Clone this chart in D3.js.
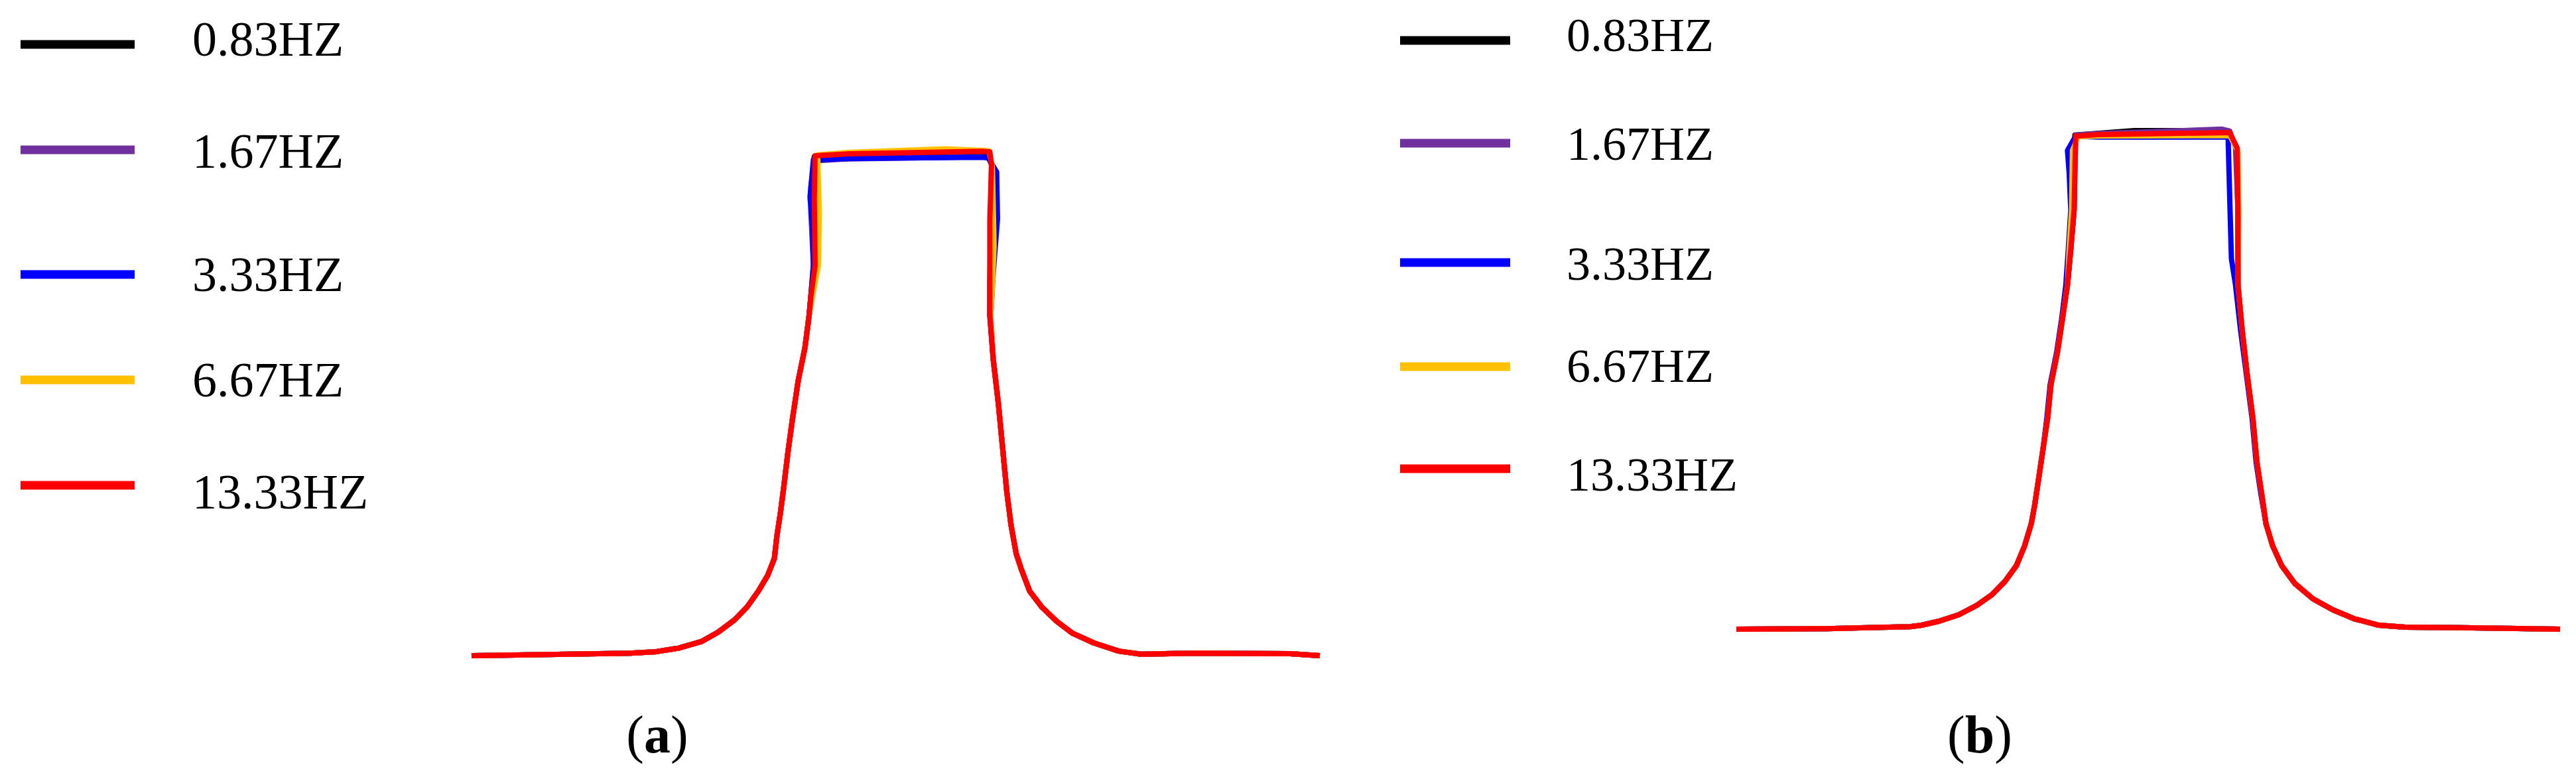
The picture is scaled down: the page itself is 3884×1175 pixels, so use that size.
<!DOCTYPE html>
<html><head><meta charset="utf-8">
<script src="https://cdn.jsdelivr.net/npm/d3@7"></script>
<style>html,body{margin:0;padding:0;background:#fff;} svg{display:block;}</style>
</head><body>
<svg id="chart" width="3884" height="1175"></svg>
<script>
// ---------- data ----------
const categories = ["0.83HZ", "1.67HZ", "3.33HZ", "6.67HZ", "13.33HZ"];
const seriesColors = ["#000000", "#7030A0", "#0000FF", "#FFC000", "#FF0000"];
const panelLabels = ["a", "b"];

// panel (a): [position, displacement] in relative units (0..100)
const a_083 = [[0,0],[11.3,0.3],[18.7,0.5],[21.8,0.8],[24.4,1.5],[27.1,2.8],[29.1,4.7],[31.0,7.1],[32.5,9.7],[33.8,12.8],[34.9,15.9],[35.7,19.3],[36.0,23.8],[36.4,28.2],[36.8,33.4],[37.3,40.4],[37.8,46.6],[38.5,54.5],[39.3,61.1],[39.8,67.6],[40.0,71.3],[40.4,77.5],[40.3,90.7],[40.4,99.0],[44.5,99.4],[60.1,99.9],[61.0,99.8],[61.3,97.3],[61.2,86.6],[61.1,73.5],[61.1,67.6],[61.5,58.8],[62.1,50.1],[62.6,41.3],[63.1,32.5],[63.6,25.9],[64.2,20.3],[64.8,17.2],[65.8,12.8],[67.2,9.7],[69.0,6.8],[70.8,4.5],[73.4,2.5],[76.3,0.9],[78.9,0.3],[85.4,0.5],[96.5,0.4],[100,0]];
const a_167 = [[0,0],[11.3,0.3],[18.7,0.5],[21.8,0.8],[24.4,1.5],[27.1,2.8],[29.1,4.7],[31.0,7.1],[32.5,9.7],[33.8,12.8],[34.9,15.9],[35.7,19.3],[36.0,23.8],[36.4,28.2],[36.8,33.4],[37.3,40.4],[37.8,46.6],[38.5,54.5],[39.3,61.1],[39.8,67.6],[40.0,71.3],[40.3,77.5],[40.0,88.0],[40.0,93.0],[40.4,98.2],[44.5,98.6],[60.1,99.0],[61.0,98.8],[61.5,96.5],[61.3,86.6],[61.2,73.5],[61.1,67.6],[61.5,58.8],[62.1,50.1],[62.6,41.3],[63.1,32.5],[63.6,25.9],[64.2,20.3],[64.8,17.2],[65.8,12.8],[67.2,9.7],[69.0,6.8],[70.8,4.5],[73.4,2.5],[76.3,0.9],[78.9,0.3],[85.4,0.5],[96.5,0.4],[100,0]];
const a_333 = [[0,0],[11.3,0.3],[18.7,0.5],[21.8,0.8],[24.4,1.5],[27.1,2.8],[29.1,4.7],[31.0,7.1],[32.5,9.7],[33.8,12.8],[34.9,15.9],[35.7,19.3],[36.0,23.8],[36.4,28.2],[36.8,33.4],[37.3,40.4],[37.8,46.6],[38.5,54.5],[39.3,61.1],[39.8,67.6],[40.0,71.3],[40.3,77.5],[40.2,84.9],[39.9,91.0],[40.3,98.4],[44.5,98.7],[60.1,98.9],[60.9,98.8],[61.9,96.0],[62.0,86.7],[61.5,76.0],[61.2,67.6],[61.5,58.8],[62.1,50.1],[62.6,41.3],[63.1,32.5],[63.6,25.9],[64.2,20.3],[64.8,17.2],[65.8,12.8],[67.2,9.7],[69.0,6.8],[70.8,4.5],[73.4,2.5],[76.3,0.9],[78.9,0.3],[85.4,0.5],[96.5,0.4],[100,0]];
const a_667 = [[0,0],[11.3,0.3],[18.7,0.5],[21.8,0.8],[24.4,1.5],[27.1,2.8],[29.1,4.7],[31.0,7.1],[32.5,9.7],[33.8,12.8],[34.9,15.9],[35.7,19.3],[36.0,23.8],[36.4,28.2],[36.8,33.4],[37.3,40.4],[37.8,46.6],[38.5,54.5],[39.3,61.1],[39.8,67.6],[40.2,71.3],[40.9,77.5],[41.0,88.0],[40.8,99.4],[44.5,99.9],[55.8,100.6],[60.1,100.3],[61.0,100.2],[61.4,97.0],[61.6,81.2],[61.4,73.5],[61.2,67.6],[61.5,58.8],[62.1,50.1],[62.6,41.3],[63.1,32.5],[63.6,25.9],[64.2,20.3],[64.8,17.2],[65.8,12.8],[67.2,9.7],[69.0,6.8],[70.8,4.5],[73.4,2.5],[76.3,0.9],[78.9,0.3],[85.4,0.5],[96.5,0.4],[100,0]];
const a_1333 = [[0,0],[11.3,0.3],[18.7,0.5],[21.8,0.8],[24.4,1.5],[27.1,2.8],[29.1,4.7],[31.0,7.1],[32.5,9.7],[33.8,12.8],[34.9,15.9],[35.7,19.3],[36.0,23.8],[36.4,28.2],[36.8,33.4],[37.3,40.4],[37.8,46.6],[38.5,54.5],[39.3,61.1],[39.8,67.6],[40.0,71.3],[40.5,77.5],[40.4,90.7],[40.5,99.2],[44.5,99.6],[60.1,100.1],[61.1,100.0],[61.3,97.5],[61.1,86.6],[61.1,73.5],[61.1,67.6],[61.5,58.8],[62.1,50.1],[62.6,41.3],[63.1,32.5],[63.6,25.9],[64.2,20.3],[64.8,17.2],[65.8,12.8],[67.2,9.7],[69.0,6.8],[70.8,4.5],[73.4,2.5],[76.3,0.9],[78.9,0.3],[85.4,0.5],[96.5,0.4],[100,0]];

// panel (b)
const b_083 = [[0,0],[11.0,0.1],[21.1,0.5],[22.5,0.8],[24.6,1.6],[27.0,2.9],[29.2,4.8],[31.0,6.9],[32.6,9.6],[34.0,12.8],[35.0,16.8],[35.8,21.2],[36.2,24.8],[36.6,29.2],[37.2,35.9],[37.8,42.6],[38.2,49.3],[39.0,55.9],[39.6,62.6],[40.2,69.3],[40.6,76.5],[41.0,84.4],[41.1,99.5],[48.3,100.4],[58.1,100.4],[59.8,100.2],[60.7,96.9],[60.9,84.0],[60.9,69.3],[61.4,60.4],[62.0,51.5],[62.7,42.6],[63.2,33.6],[63.8,27.0],[64.3,21.2],[65.1,16.8],[66.2,12.8],[67.8,9.2],[70.0,6.1],[72.4,3.9],[75.0,2.1],[78.0,0.8],[81.2,0.4],[87.9,0.3],[100,0]];
const b_167 = [[0,0],[11.0,0.1],[21.1,0.5],[22.5,0.8],[24.6,1.6],[27.0,2.9],[29.2,4.8],[31.0,6.9],[32.6,9.6],[34.0,12.8],[35.0,16.8],[35.8,21.2],[36.2,24.8],[36.6,29.2],[37.2,35.9],[37.8,42.6],[38.2,49.3],[39.0,55.9],[39.6,62.6],[40.2,69.3],[40.6,76.5],[41.0,84.4],[41.2,99.5],[43.9,99.8],[58.9,100.7],[59.9,100.3],[60.6,97.0],[60.9,84.0],[60.9,69.3],[61.4,60.4],[62.0,51.5],[62.7,42.6],[63.2,33.6],[63.8,27.0],[64.3,21.2],[65.1,16.8],[66.2,12.8],[67.8,9.2],[70.0,6.1],[72.4,3.9],[75.0,2.1],[78.0,0.8],[81.2,0.4],[87.9,0.3],[100,0]];
const b_333 = [[0,0],[11.0,0.1],[21.1,0.5],[22.5,0.8],[24.6,1.6],[27.0,2.9],[29.2,4.8],[31.0,6.9],[32.6,9.6],[34.0,12.8],[35.0,16.8],[35.8,21.2],[36.2,24.8],[36.6,29.2],[37.2,35.9],[37.7,42.6],[38.1,49.3],[38.9,55.9],[39.5,62.6],[40.0,69.3],[40.3,76.5],[40.6,84.4],[40.4,92.0],[40.2,96.4],[41.2,99.3],[43.9,99.1],[59.7,99.1],[59.9,86.5],[60.1,74.6],[60.6,69.3],[61.2,60.4],[61.9,51.5],[62.6,42.6],[63.1,33.6],[63.7,27.0],[64.3,21.2],[65.1,16.8],[66.2,12.8],[67.8,9.2],[70.0,6.1],[72.4,3.9],[75.0,2.1],[78.0,0.8],[81.2,0.4],[87.9,0.3],[100,0]];
const b_667 = [[0,0],[11.0,0.1],[21.1,0.5],[22.5,0.8],[24.6,1.6],[27.0,2.9],[29.2,4.8],[31.0,6.9],[32.6,9.6],[34.0,12.8],[35.0,16.8],[35.8,21.2],[36.2,24.8],[36.6,29.2],[37.2,35.9],[37.8,42.6],[38.2,49.3],[39.0,55.9],[39.6,62.6],[40.2,69.3],[40.4,76.5],[40.7,84.4],[40.8,96.4],[41.5,99.2],[44.0,99.3],[59.9,99.4],[60.9,96.2],[61.0,84.0],[60.9,69.3],[61.4,60.4],[62.0,51.5],[62.7,42.6],[63.2,33.6],[63.8,27.0],[64.3,21.2],[65.1,16.8],[66.2,12.8],[67.8,9.2],[70.0,6.1],[72.4,3.9],[75.0,2.1],[78.0,0.8],[81.2,0.4],[87.9,0.3],[100,0]];
const b_1333 = [[0,0],[11.0,0.1],[21.1,0.5],[22.5,0.8],[24.6,1.6],[27.0,2.9],[29.2,4.8],[31.0,6.9],[32.6,9.6],[34.0,12.8],[35.0,16.8],[35.8,21.2],[36.2,24.8],[36.6,29.2],[37.2,35.9],[37.8,42.6],[38.2,49.3],[39.0,55.9],[39.6,62.6],[40.2,69.3],[40.6,76.5],[41.0,84.4],[41.2,99.3],[43.9,99.6],[59.9,100.0],[60.8,96.9],[60.9,84.0],[60.9,69.3],[61.4,60.4],[62.0,51.5],[62.7,42.6],[63.2,33.6],[63.8,27.0],[64.3,21.2],[65.1,16.8],[66.2,12.8],[67.8,9.2],[70.0,6.1],[72.4,3.9],[75.0,2.1],[78.0,0.8],[81.2,0.4],[87.9,0.3],[100,0]];

const panelSeries = [
  [a_083, a_167, a_333, a_667, a_1333],
  [b_083, b_167, b_333, b_667, b_1333]
];

// ---------- layout ----------
const layouts = [
  { x: [711, 1990], y: [989, 229], legLine: [31, 203], legY: [67, 226, 414, 573, 732],
    legTextX: 290, legBase: [84, 253, 439, 598, 767], legFont: 74, labelX: 991, labelY: 1135 },
  { x: [2618, 3860], y: [949, 200], legLine: [2111, 2277], legY: [61, 216, 396, 553, 707],
    legTextX: 2362, legBase: [77, 241, 422, 576, 740], legFont: 72, labelX: 2985, labelY: 1135 }
];

const svg = d3.select("#chart");
const serif = "'Liberation Serif', 'Times New Roman', serif";

layouts.forEach((L, p) => {
  const g = svg.append("g");
  const xs = d3.scaleLinear().domain([0, 100]).range(L.x);
  const ys = d3.scaleLinear().domain([0, 100]).range(L.y);
  const line = d3.line().x(d => xs(d[0])).y(d => ys(d[1]));

  panelSeries[p].forEach((s, i) => {
    g.append("path").datum(s)
      .attr("d", line)
      .attr("fill", "none")
      .attr("stroke", seriesColors[i])
      .attr("stroke-width", 8)
      .attr("stroke-linejoin", "round")
      .attr("stroke-linecap", "butt");
  });

  // legend
  const leg = g.append("g");
  categories.forEach((c, i) => {
    leg.append("line")
      .attr("x1", L.legLine[0]).attr("x2", L.legLine[1])
      .attr("y1", L.legY[i]).attr("y2", L.legY[i])
      .attr("stroke", seriesColors[i]).attr("stroke-width", 13);
    leg.append("text")
      .attr("x", L.legTextX).attr("y", L.legBase[i])
      .attr("font-family", serif).attr("font-size", L.legFont)
      .attr("fill", "#000")
      .text(c);
  });

  // panel label
  const t = g.append("text")
    .attr("x", L.labelX).attr("y", L.labelY)
    .attr("text-anchor", "middle")
    .attr("font-family", serif).attr("font-size", 80).attr("fill", "#000");
  t.append("tspan").text("(");
  t.append("tspan").attr("font-weight", "bold").text(panelLabels[p]);
  t.append("tspan").text(")");
});
</script>
</body></html>
